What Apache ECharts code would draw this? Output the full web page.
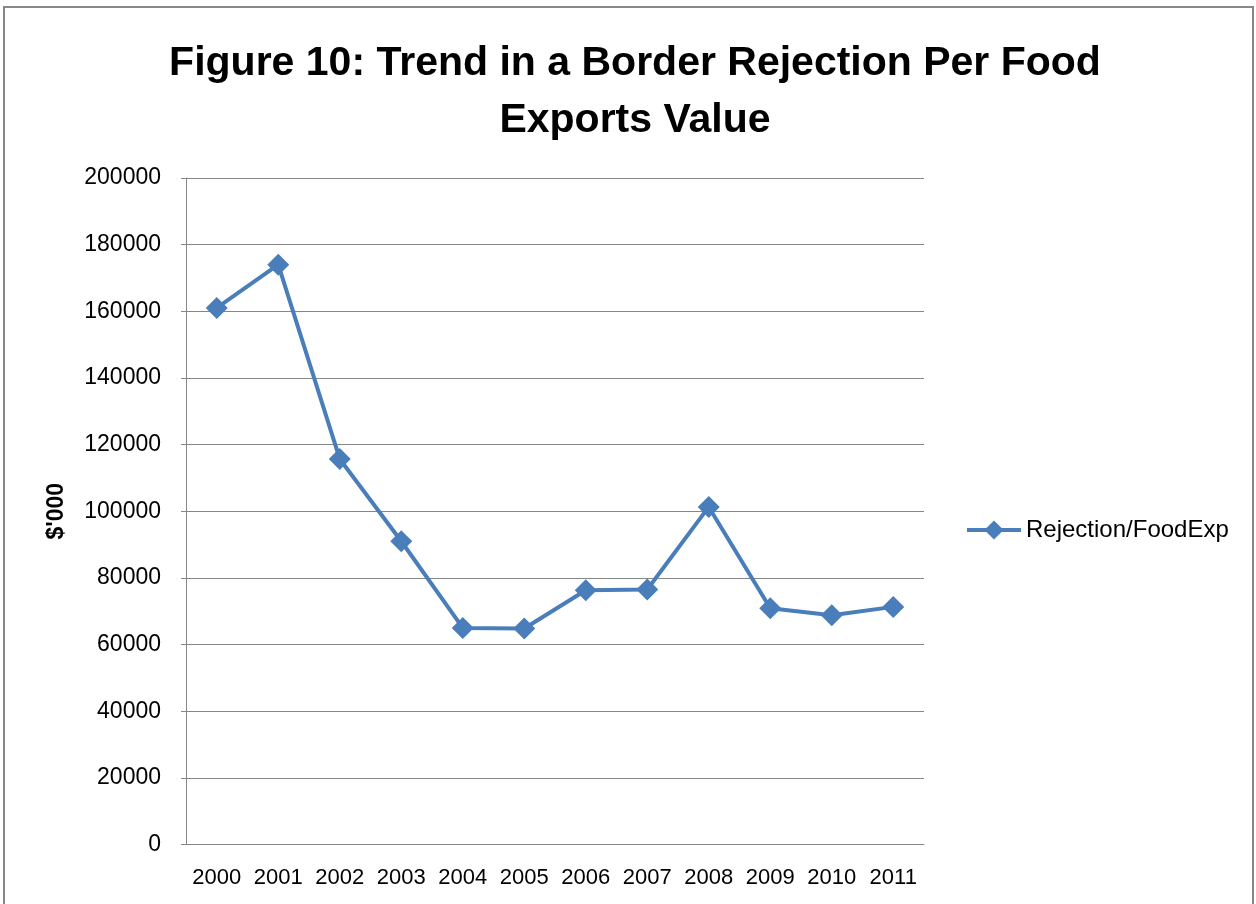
<!DOCTYPE html>
<html>
<head>
<meta charset="utf-8">
<script src="https://cdn.jsdelivr.net/npm/echarts@6/dist/echarts.min.js"></script>
<style>
  html, body { margin: 0; padding: 0; background: #ffffff; }
  #chart { width: 1256px; height: 904px; }
</style>
</head>
<body>
<div id="chart"></div>
<script>
// Years on the category axis
const years = ['2000', '2001', '2002', '2003', '2004', '2005', '2006', '2007', '2008', '2009', '2010', '2011'];
// Border rejection per food exports value ($'000)
const rejectionPerFoodExp = [161000, 174000, 115700, 91000, 65000, 64800, 76300, 76500, 101300, 70900, 68800, 71300];
// Value axis ticks
const yMin = 0;
const yMax = 200000;
const yStep = 20000;

const titleLines = ['Figure 10: Trend in a Border Rejection Per Food', 'Exports Value'];
const seriesName = 'Rejection/FoodExp';
const yAxisName = "$'000";

const blue = '#4a7ebb';
const grey = '#878787';
const textFont = "'Liberation Sans', Arial, sans-serif";

const chart = echarts.init(document.getElementById('chart'), null, { renderer: 'canvas' });

chart.setOption({
  backgroundColor: '#ffffff',
  animation: false,
  graphic: [{
    type: 'rect',
    shape: { x: 4, y: 7, width: 1249, height: 910 },
    style: { fill: 'none', stroke: grey, lineWidth: 2 },
    silent: true
  }],
  title: {
    text: titleLines.join('\n'),
    left: 630,
    textAlign: 'center',
    top: 30,
    textStyle: {
      fontFamily: textFont,
      fontWeight: 'bold',
      fontSize: 41,
      lineHeight: 57,
      color: '#000000'
    }
  },
  legend: {
    data: [seriesName],
    left: 965,
    top: 518,
    padding: 0,
    itemWidth: 54,
    itemHeight: 24,
    itemGap: 4,
    lineStyle: { width: 4 },
    textStyle: { fontFamily: textFont, fontSize: 24, color: '#000000' }
  },
  grid: { left: 186, right: 332, top: 178, bottom: 59.5, containLabel: false },
  xAxis: {
    type: 'category',
    data: years,
    boundaryGap: true,
    axisLine: { show: true, lineStyle: { color: grey, width: 1 } },
    axisTick: { show: false },
    axisLabel: { interval: 0, fontFamily: textFont, fontSize: 22, color: '#000000', margin: 22 }
  },
  yAxis: {
    type: 'value',
    min: yMin,
    max: yMax,
    interval: yStep,
    name: yAxisName,
    nameLocation: 'middle',
    nameGap: 118,
    nameRotate: 90,
    nameTextStyle: { fontFamily: textFont, fontWeight: 'bold', fontSize: 23, color: '#000000' },
    axisLine: { show: true, lineStyle: { color: grey, width: 1 } },
    axisTick: { show: true, length: 5, lineStyle: { color: grey } },
    splitLine: { show: true, lineStyle: { color: grey, width: 1 } },
    axisLabel: {
      fontFamily: textFont,
      fontSize: 23,
      color: '#000000',
      margin: 25,
      formatter: function (v) { return String(v); }
    }
  },
  series: [{
    name: seriesName,
    type: 'line',
    data: rejectionPerFoodExp,
    symbol: 'diamond',
    symbolSize: 22,
    lineStyle: { color: blue, width: 4 },
    itemStyle: { color: blue },
    emphasis: { disabled: true }
  }]
});
</script>
</body>
</html>
